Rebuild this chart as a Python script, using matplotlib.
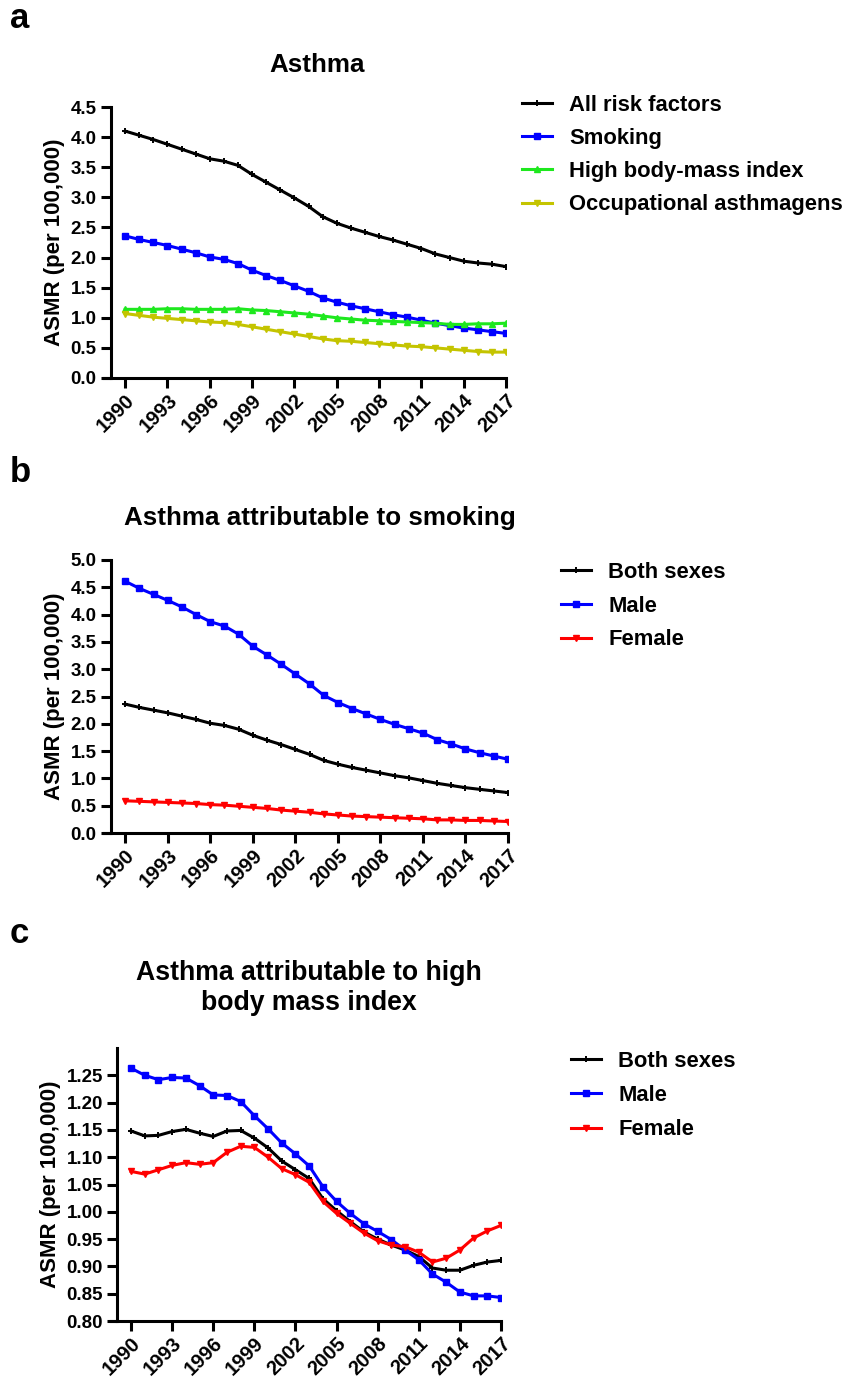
import matplotlib
matplotlib.use("Agg")
import matplotlib.pyplot as plt
import numpy as np

plt.rcParams['font.family'] = ['Liberation Sans', 'DejaVu Sans']
plt.rcParams['font.weight'] = 'bold'
plt.rcParams['axes.labelweight'] = 'bold'

years = list(range(1990, 2018))
xtick_years = list(range(1990, 2018, 3))

# panel a: Asthma, by risk factor
a_all = [4.10, 4.03, 3.96, 3.88, 3.80, 3.72, 3.64, 3.60, 3.53, 3.38, 3.25, 3.12, 2.99, 2.85,
         2.68, 2.57, 2.49, 2.42, 2.35, 2.29, 2.22, 2.15, 2.06, 2.00, 1.94, 1.91, 1.89, 1.85]
a_smoking = [2.36, 2.30, 2.25, 2.20, 2.14, 2.08, 2.01, 1.97, 1.90, 1.79, 1.70, 1.62, 1.53, 1.44,
             1.33, 1.26, 1.20, 1.15, 1.10, 1.05, 1.01, 0.96, 0.91, 0.87, 0.83, 0.80, 0.77, 0.74]
a_bmi = [1.14, 1.14, 1.14, 1.15, 1.15, 1.14, 1.14, 1.14, 1.15, 1.13, 1.12, 1.10, 1.08, 1.06,
         1.03, 1.00, 0.98, 0.96, 0.95, 0.94, 0.93, 0.92, 0.91, 0.89, 0.89, 0.90, 0.90, 0.91]
a_occup = [1.07, 1.04, 1.01, 0.99, 0.97, 0.95, 0.93, 0.92, 0.89, 0.85, 0.81, 0.77, 0.73, 0.69,
           0.65, 0.62, 0.61, 0.59, 0.57, 0.55, 0.53, 0.52, 0.50, 0.48, 0.46, 0.44, 0.43, 0.43]

# panel b: smoking, by sex
b_both = a_smoking
b_male = [4.61, 4.48, 4.37, 4.26, 4.14, 4.00, 3.87, 3.79, 3.64, 3.42, 3.26, 3.09, 2.91, 2.73,
          2.52, 2.39, 2.28, 2.18, 2.08, 1.99, 1.91, 1.83, 1.71, 1.63, 1.54, 1.47, 1.41, 1.35]
b_female = [0.59, 0.58, 0.57, 0.56, 0.55, 0.54, 0.52, 0.51, 0.49, 0.47, 0.45, 0.42, 0.40, 0.38,
            0.35, 0.33, 0.31, 0.30, 0.29, 0.28, 0.27, 0.26, 0.24, 0.24, 0.23, 0.23, 0.22, 0.21]

# panel c: high BMI, by sex
c_both = [1.148, 1.139, 1.140, 1.147, 1.151, 1.144, 1.138, 1.148, 1.149, 1.135, 1.117, 1.093,
          1.077, 1.061, 1.024, 1.002, 0.982, 0.963, 0.950, 0.939, 0.930, 0.918, 0.897, 0.893,
          0.893, 0.902, 0.908, 0.911]
c_male = [1.263, 1.250, 1.242, 1.246, 1.245, 1.231, 1.214, 1.213, 1.202, 1.176, 1.152, 1.126,
          1.106, 1.084, 1.046, 1.019, 0.997, 0.978, 0.964, 0.949, 0.930, 0.912, 0.886, 0.871,
          0.853, 0.846, 0.846, 0.843]
c_female = [1.074, 1.069, 1.077, 1.085, 1.090, 1.087, 1.090, 1.109, 1.120, 1.118, 1.100, 1.079,
            1.068, 1.054, 1.019, 0.997, 0.979, 0.961, 0.947, 0.939, 0.936, 0.926, 0.908, 0.915,
            0.930, 0.952, 0.965, 0.975]

W, H = 846, 1382
fig = plt.figure(figsize=(W / 100, H / 100), dpi=100)


def px_axes(l, t, r, b):
    return fig.add_axes([l / W, 1 - b / H, (r - l) / W, (b - t) / H])


def style(ax, ylim, yticks, fmt):
    ax.set_xlim(1988.5, 2017)
    ax.set_ylim(*ylim)
    for s in ['top', 'right']:
        ax.spines[s].set_visible(False)
    for s in ['left', 'bottom']:
        ax.spines[s].set_linewidth(2.2)
    ax.spines['left'].set_position(('data', 1989))
    ax.set_xticks(xtick_years)
    ax.set_xticklabels([str(y) for y in xtick_years], rotation=45, ha='right',
                       rotation_mode='anchor', fontsize=14.5, fontweight='bold')
    ax.set_yticks(yticks)
    ax.set_yticklabels([fmt.format(v) for v in yticks], fontsize=13.5, fontweight='bold')
    ax.tick_params(axis='both', direction='out', length=7, width=2.2)
    ax.tick_params(axis='x', pad=2)
    ax.set_ylabel('ASMR (per 100,000)', fontsize=16, fontweight='bold', labelpad=4)


def legend(ax, x, y, ls):
    ax.legend(loc='upper left', bbox_to_anchor=(x / W, 1 - y / H), bbox_transform=fig.transFigure,
              frameon=False, handlelength=1.35, handletextpad=0.8,
              labelspacing=ls, borderpad=0, borderaxespad=0,
              prop={'weight': 'bold', 'size': 15.8})


lw = 2.2
ms = 4.3
# ---- panel a ----
ax = px_axes(104, 107, 506, 378)
ax.plot(years, a_all, color='black', lw=lw, marker='+', ms=4.5, mew=1.4, label='All risk factors')
ax.plot(years, a_smoking, color='#0000FF', lw=lw, marker='s', ms=ms, label='Smoking')
ax.plot(years, a_bmi, color='#1EE81E', lw=lw, marker='^', ms=ms, label='High body-mass index')
ax.plot(years, a_occup, color='#C4C400', lw=lw, marker='v', ms=ms, label='Occupational asthmagens')
style(ax, (0, 4.5), np.arange(0, 4.51, 0.5), '{:.1f}')
legend(ax, 522, 95, 0.55)
fig.text(317, H - 72, 'Asthma', transform=None, ha='center', va='baseline',
         fontsize=18.7, fontweight='bold')

# ---- panel b ----
ax = px_axes(104, 560, 508, 833)
ax.plot(years, b_both, color='black', lw=lw, marker='+', ms=4.5, mew=1.4, label='Both sexes')
ax.plot(years, b_male, color='#0000FF', lw=lw, marker='s', ms=ms, label='Male')
ax.plot(years, b_female, color='#FF0000', lw=lw, marker='v', ms=ms, label='Female')
style(ax, (0, 5.0), np.arange(0, 5.01, 0.5), '{:.1f}')
legend(ax, 561, 562, 0.58)
fig.text(320, H - 525, 'Asthma attributable to smoking', transform=None, ha='center',
         va='baseline', fontsize=18.7, fontweight='bold')

# ---- panel c ----
ax = px_axes(110.5, 1048, 501, 1321)
ax.plot(years, c_both, color='black', lw=lw, marker='+', ms=4.5, mew=1.4, label='Both sexes')
ax.plot(years, c_male, color='#0000FF', lw=lw, marker='s', ms=ms, label='Male')
ax.plot(years, c_female, color='#FF0000', lw=lw, marker='v', ms=ms, label='Female')
style(ax, (0.80, 1.30), np.round(np.arange(0.80, 1.2501, 0.05), 2), '{:.2f}')
legend(ax, 571, 1051, 0.6)
fig.text(309, H - 1010, 'Asthma attributable to high\nbody mass index', transform=None,
         ha='center', va='baseline', fontsize=19.2, fontweight='bold', linespacing=1.2)

# panel letters
for letter, yb in [('a', 28), ('b', 482), ('c', 943)]:
    fig.text(10, H - yb, letter, transform=None, ha='left', va='baseline',
             fontsize=25, fontweight='bold')

fig.savefig('out.png', dpi=100)
